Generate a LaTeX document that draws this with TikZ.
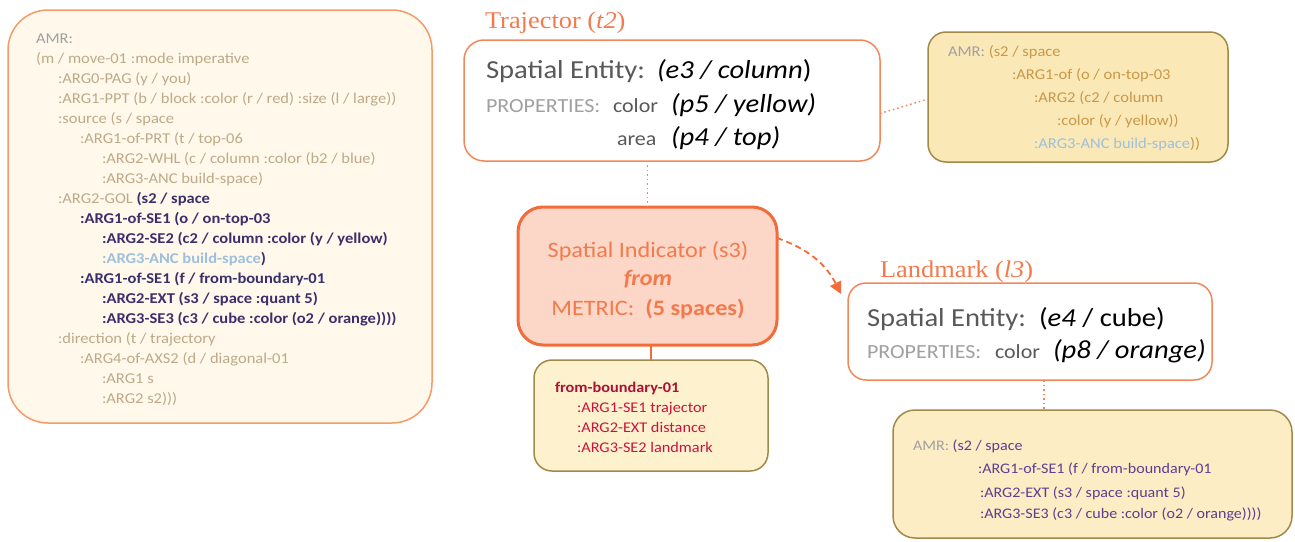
\documentclass[tikz,border=0pt]{standalone}
\usepackage{fontspec}
\setmainfont[FakeStretch=1.1]{Carlito}
\newfontfamily\serifx[FakeStretch=1.1]{Liberation Serif}
\usetikzlibrary{arrows.meta,calc}
\definecolor{orl}{HTML}{F4875A}
\definecolor{orlight}{HTML}{F59B6A}
\definecolor{orthick}{HTML}{F26B3A}
\definecolor{ortext}{HTML}{F27A4C}
\definecolor{leftfill}{HTML}{FFF8EB}
\definecolor{sifill}{HTML}{FCD6C6}
\definecolor{amrfill}{HTML}{FBE8B7}
\definecolor{amrfillb}{HTML}{FCEDC4}
\definecolor{fbfill}{HTML}{FEF1CE}
\definecolor{olive}{HTML}{A08A4A}
\definecolor{tan}{HTML}{BDAA88}
\definecolor{graytxt}{HTML}{A0A0A0}
\definecolor{darkb}{HTML}{3A2F6B}
\definecolor{lblue}{HTML}{9DC0DC}
\definecolor{amrtan}{HTML}{C99848}
\definecolor{purp}{HTML}{5C3F8E}
\definecolor{dred}{HTML}{C8143E}
\definecolor{dgray}{HTML}{595959}
\newcommand\myfs[1]{\fontsize{#1}{#1}\selectfont}
\tikzset{
  tl/.style={anchor=base west, inner sep=0pt, outer sep=0pt},
  tc/.style={anchor=base, inner sep=0pt, outer sep=0pt},
  rbox/.style={draw, rounded corners=#1, inner sep=0pt, outer sep=0pt},
  dotc/.style={draw=orl, line width=1.5pt, dash pattern=on 1.5pt off 3pt},
}
\begin{document}
\begin{tikzpicture}[x=1pt,y=-1pt]
\useasboundingbox (0,0) rectangle (1295,541);
% ---------- boxes ----------
\node[rbox=40pt, draw=orlight, fill=leftfill, line width=1.5pt, minimum width=424pt, minimum height=413pt] (left) at (220,216.5) {};
\node[rbox=20pt, draw=orl, fill=white, line width=1.5pt, minimum width=416pt, minimum height=121pt] (traj) at (672,100.5) {};
\node[rbox=18pt, draw=olive, fill=amrfill, line width=1.5pt, minimum width=300pt, minimum height=130pt] (amr1) at (1078,97) {};
\node[rbox=25pt, draw=orthick, fill=sifill, line width=3pt, minimum width=259pt, minimum height=138pt] (si) at (647.5,276) {};
\node[rbox=18pt, draw=olive, fill=fbfill, line width=1.5pt, minimum width=234pt, minimum height=111pt] (fb) at (651,415.5) {};
\node[rbox=18pt, draw=orl, fill=white, line width=1.5pt, minimum width=364pt, minimum height=97pt] (lm) at (1030,331.5) {};
\node[rbox=22pt, draw=olive, fill=amrfillb, line width=1.5pt, minimum width=399pt, minimum height=128pt] (amr2) at (1092.5,474) {};
% ---------- connectors ----------
\draw[dotc] ([yshift=-13pt]traj.east) -- ([yshift=-2pt]amr1.west);
\draw[dotc] (si.north) -- (si.north |- traj.south);
\draw[draw=orthick, line width=2.5pt] (fb.north) -- (fb.north |- si.south);
\path ($(lm.south)+(14,0)$) coordinate (lmd);
\draw[dotc] (lmd) -- (lmd |- amr2.north);
\draw[draw=orthick, line width=1.8pt, dash pattern=on 6pt off 4pt, -{Triangle[length=12pt,width=12pt]}]
  ([yshift=38pt]si.east) to[bend left=22] ([xshift=-7pt,yshift=-11pt]lm.north west);
% ---------- left AMR ----------
\begin{scope}[every node/.style={tl}, font=\myfs{15}]
\node[text=graytxt] (a1) at (36,43) {AMR:};
\node[text=tan] (a2) at (36,63) {(m / move-01 :mode imperative};
\node[text=tan] (a3) at (58,83) {:ARG0-PAG (y / you)};
\node[text=tan] (a4) at (58,103) {:ARG1-PPT (b / block :color (r / red) :size (l / large))};
\node[text=tan] (a5) at (58,123) {:source (s / space};
\node[text=tan] (a6) at (80,143) {:ARG1-of-PRT (t / top-06};
\node[text=tan] (a7) at (102,163) {:ARG2-WHL (c / column :color (b2 / blue)};
\node[text=tan] (a8) at (102,183) {:ARG3-ANC build-space)};
\node[text=tan] (a9) at (58,203) {:ARG2-GOL \textcolor{darkb}{\bfseries(s2 / space}};
\node[text=darkb, font=\myfs{15}\bfseries] (a10) at (80,223) {:ARG1-of-SE1 (o / on-top-03};
\node[text=darkb, font=\myfs{15}\bfseries] (a11) at (102,243) {:ARG2-SE2 (c2 / column :color (y / yellow)};
\node[text=darkb, font=\myfs{15}\bfseries] (a12) at (102,263) {\textcolor{lblue}{:ARG3-ANC build-space})};
\node[text=darkb, font=\myfs{15}\bfseries] (a13) at (80,283) {:ARG1-of-SE1 (f / from-boundary-01};
\node[text=darkb, font=\myfs{15}\bfseries] (a14) at (102,303) {:ARG2-EXT (s3 / space :quant 5)};
\node[text=darkb, font=\myfs{15}\bfseries] (a15) at (102,323) {:ARG3-SE3 (c3 / cube :color (o2 / orange))))};
\node[text=tan] (a16) at (58,343) {:direction (t / trajectory};
\node[text=tan] (a17) at (80,363) {:ARG4-of-AXS2 (d / diagonal-01};
\node[text=tan] (a18) at (102,383) {:ARG1 s};
\node[text=tan] (a19) at (102,403) {:ARG2 s2)))};
\end{scope}
% ---------- trajector ----------
\node[tl, text=ortext, font=\serifx\myfs{24}] (ttitle) at (485,28) {Trajector (\textit{t2})};
\node[tl, text=dgray, font=\myfs{26}] (t1) at (486,78) {Spatial Entity:};
\node[tl, text=black, font=\myfs{26}\itshape] (t1b) at (657,78) {(e3 / column\/\upshape)};
\node[tl, text=graytxt, font=\myfs{20}] (t2) at (486,112) {PROPERTIES:};
\node[tl, text=dgray, font=\myfs{20}] (t3) at (613,112) {color};
\node[tl, text=black, font=\myfs{26}\itshape] (t4) at (671,112) {(p5 / yellow)};
\node[tl, text=dgray, font=\myfs{20}] (t5) at (617,145) {area};
\node[tl, text=black, font=\myfs{26}\itshape] (t6) at (671,145) {(p4 / top)};
% ---------- top AMR ----------
\begin{scope}[every node/.style={tl}, font=\myfs{15}]
\node[text=graytxt] (b1) at (948,56) {AMR: \textcolor{amrtan}{(s2 / space}};
\node[text=amrtan] (b2) at (1012,79) {:ARG1-of (o / on-top-03};
\node[text=amrtan] (b3) at (1034,102) {:ARG2 (c2 / column};
\node[text=amrtan] (b4) at (1057,125) {:color (y / yellow))};
\node[text=lblue] (b5) at (1034,148) {:ARG3-ANC build-space\textcolor{amrtan}{))}};
\end{scope}
% ---------- spatial indicator ----------
\node[tc, text=ortext, font=\myfs{22}] (s1) at (648,257) {Spatial Indicator (s3)};
\node[tc, text=ortext, font=\myfs{22}\bfseries\itshape] (s2) at (648,285) {from};
\node[tc, text=ortext, font=\myfs{22}] (s3) at (648,315) {METRIC:\ \ \textbf{(5 spaces)}};
% ---------- from-boundary ----------
\begin{scope}[every node/.style={tl}, font=\myfs{14.8}]
\node[text=dred!85!black, font=\myfs{14.8}\bfseries] (f1) at (555,392) {from-boundary-01};
\node[text=dred] (f2) at (577,412) {:ARG1-SE1 trajector};
\node[text=dred] (f3) at (577,432) {:ARG2-EXT distance};
\node[text=dred] (f4) at (577,452) {:ARG3-SE2 landmark};
\end{scope}
% ---------- landmark ----------
\node[tl, text=ortext, font=\serifx\myfs{24}] (ltitle) at (880,277) {Landmark (\textit{l3})};
\node[tl, text=dgray, font=\myfs{26}] (l1) at (867,326) {Spatial Entity:};
\node[tl, text=black, font=\myfs{26}] (l1b) at (1039,326) {(\textit{e4} / cube)};
\node[tl, text=graytxt, font=\myfs{20}] (l2) at (867,358) {PROPERTIES:};
\node[tl, text=dgray, font=\myfs{20}] (l3) at (995,358) {color};
\node[tl, text=black, font=\myfs{26}\itshape] (l4) at (1053,358) {(p8 / orange)};
% ---------- bottom AMR ----------
\begin{scope}[every node/.style={tl}, font=\myfs{14.6}]
\node[text=graytxt] (c1) at (913,450) {AMR: \textcolor{purp}{(s2 / space}};
\node[text=purp] (c2) at (978,473) {:ARG1-of-SE1 (f / from-boundary-01};
\node[text=purp] (c3) at (980,497) {:ARG2-EXT (s3 / space :quant 5)};
\node[text=purp] (c4) at (980,518) {:ARG3-SE3 (c3 / cube :color (o2 / orange))))};
\end{scope}
\end{tikzpicture}
\end{document}
